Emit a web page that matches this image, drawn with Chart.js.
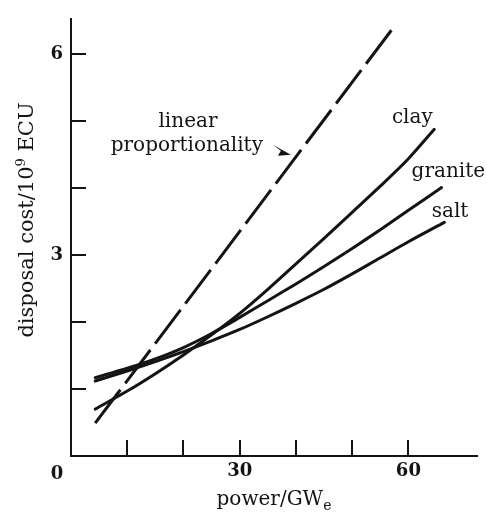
<!DOCTYPE html>
<html>
<head>
<meta charset="utf-8">
<script src="https://cdn.jsdelivr.net/npm/chart.js@4.4.1/dist/chart.umd.min.js"></script>
<style>
  html, body { margin: 0; padding: 0; background: #fff; }
  #wrap { width: 487px; height: 512px; }
</style>
</head>
<body>
<div id="wrap"><canvas id="chart"></canvas></div>
<script>
// values (power in GWe, cost in 10^9 ECU)
const linearX = [4.3, 57.7];
const linearY = [0.49, 6.44];

const clayX = [4.3, 10, 15, 20, 25, 30, 35, 40, 45, 50, 55, 60, 64.6];
const clayY = [0.70, 0.97, 1.23, 1.51, 1.81, 2.13, 2.49, 2.87, 3.25, 3.64, 4.03, 4.44, 4.88];

const graniteX = [4.3, 10, 15, 20, 25, 30, 35, 40, 45, 50, 55, 60, 65.9];
const graniteY = [1.17, 1.31, 1.45, 1.62, 1.83, 2.07, 2.32, 2.57, 2.83, 3.10, 3.38, 3.67, 4.01];

const saltX = [4.3, 10, 15, 20, 25, 30, 35, 40, 45, 50, 55, 60, 66.4];
const saltY = [1.12, 1.27, 1.41, 1.56, 1.72, 1.89, 2.08, 2.28, 2.49, 2.72, 2.96, 3.20, 3.49];

const xTickValues = [10, 20, 30, 40, 50, 60];
const xTickLabels = [0, 30, 60];
const yTickValues = [1, 2, 3, 4, 5, 6];
const yTickLabels = [3, 6];

const ink = "#141414";
const serif = "'DejaVu Serif', 'Liberation Serif', serif";
Chart.defaults.font.family = serif;
Chart.defaults.color = ink;

function points(xs, ys) {
  return xs.map((x, i) => ({ x: x, y: ys[i] }));
}

function curve(label, xs, ys, dash) {
  return {
    label: label,
    data: points(xs, ys),
    borderColor: ink,
    borderWidth: 3,
    borderDash: dash || [],
    borderCapStyle: dash ? "butt" : "round",
    pointRadius: 0,
    tension: 0.3,
    fill: false,
  };
}

// draws a run of text pieces (for sub/superscripts) starting at x
function drawPieces(ctx, pieces, x, y, center) {
  let total = 0;
  pieces.forEach((p) => {
    ctx.font = p.size + "px " + serif;
    p.w = ctx.measureText(p.text).width;
    total += p.w;
  });
  let cx = center ? x - total / 2 : x;
  pieces.forEach((p) => {
    ctx.font = p.size + "px " + serif;
    ctx.fillText(p.text, cx, y + (p.shift || 0));
    cx += p.w;
  });
}

const extras = {
  id: "extras",
  afterDraw(chart) {
    const { ctx, scales } = chart;
    const x = scales.x;
    const y = scales.y;
    ctx.save();
    ctx.strokeStyle = ink;
    ctx.fillStyle = ink;
    ctx.lineWidth = 2;

    // ticks point inwards on this figure
    ctx.beginPath();
    xTickValues.forEach((v) => {
      const px = Math.round(x.getPixelForValue(v));
      ctx.moveTo(px, y.bottom);
      ctx.lineTo(px, y.bottom - 16);
    });
    yTickValues.forEach((v) => {
      const py = Math.round(y.getPixelForValue(v));
      ctx.moveTo(x.left, py);
      ctx.lineTo(x.left + 15, py);
    });
    ctx.stroke();

    // the origin label sits left of the corner
    ctx.font = "bold 18px " + serif;
    ctx.textAlign = "center";
    ctx.textBaseline = "alphabetic";
    ctx.fillText("0", x.getPixelForValue(0) - 14, 479);

    // axis titles
    ctx.textAlign = "left";
    drawPieces(ctx, [
      { text: "power/GW", size: 20 },
      { text: "e", size: 14, shift: 5 },
    ], (x.left + x.right) / 2, 505, true);

    ctx.save();
    ctx.translate(33, 220);
    ctx.rotate(-Math.PI / 2);
    drawPieces(ctx, [
      { text: "disposal cost/10", size: 21 },
      { text: "9", size: 13, shift: -8 },
      { text: " ECU", size: 21 },
    ], 0, 0, true);
    ctx.restore();

    // curve labels
    ctx.font = "20px " + serif;
    ctx.textAlign = "center";
    ctx.fillText("linear", x.getPixelForValue(20.8), y.getPixelForValue(4.92));
    ctx.fillText("proportionality", x.getPixelForValue(20.6), y.getPixelForValue(4.55));
    ctx.fillText("clay", x.getPixelForValue(60.7), y.getPixelForValue(4.97));
    ctx.fillText("granite", x.getPixelForValue(67.1), y.getPixelForValue(4.16));
    ctx.fillText("salt", x.getPixelForValue(67.4), y.getPixelForValue(3.57));

    // little arrow from the label to the dashed line
    const tipX = x.getPixelForValue(39.1), tipY = y.getPixelForValue(4.5);
    ctx.beginPath();
    ctx.moveTo(tipX, tipY);
    ctx.lineTo(tipX - 18, tipY - 10);
    ctx.lineTo(tipX - 10, tipY - 4);
    ctx.lineTo(tipX - 13, tipY + 1);
    ctx.closePath();
    ctx.fill();

    ctx.restore();
  },
};

new Chart(document.getElementById("chart"), {
  type: "line",
  data: {
    datasets: [
      curve("linear proportionality", linearX, linearY, [42, 8]),
      curve("clay", clayX, clayY),
      curve("granite", graniteX, graniteY),
      curve("salt", saltX, saltY),
    ],
  },
  options: {
    responsive: true,
    maintainAspectRatio: false,
    animation: false,
    layout: { padding: { top: 12, right: 10, left: 0, bottom: 0 } },
    plugins: {
      legend: { display: false },
      tooltip: { enabled: false },
    },
    scales: {
      x: {
        type: "linear",
        min: 0,
        max: 72.2,
        afterFit: (s) => { s.height = 56; },
        grid: { display: false, drawTicks: false },
        border: { display: true, color: ink, width: 2 },
        ticks: {
          stepSize: 10,
          autoSkip: false,
          maxRotation: 0,
          padding: 5,
          font: { size: 18, weight: "bold" },
          callback: (v) => (xTickLabels.includes(v) && v !== 0 ? String(v) : ""),
        },
      },
      y: {
        type: "linear",
        min: 0,
        max: 6.53,
        afterFit: (s) => { s.width = 71; },
        grid: { display: false, drawTicks: false },
        border: { display: true, color: ink, width: 2 },
        ticks: {
          stepSize: 1,
          autoSkip: false,
          padding: 8,
          font: { size: 18, weight: "bold" },
          callback: (v) => (yTickLabels.includes(v) ? String(v) : ""),
        },
      },
    },
  },
  plugins: [extras],
});
</script>
</body>
</html>
